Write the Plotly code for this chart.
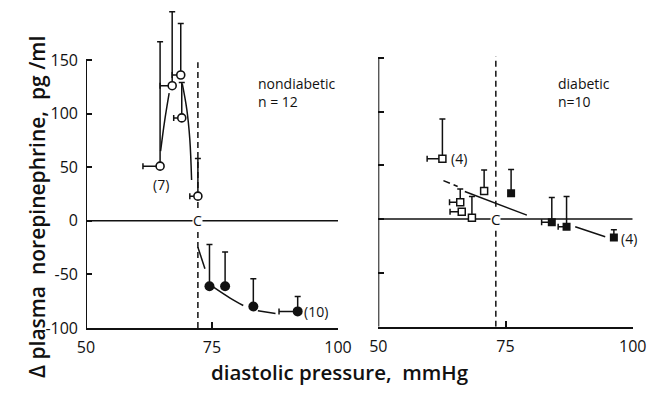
import plotly.graph_objects as go

# ---------------- data ----------------
# Nondiabetic: open circles (below threshold), filled circles (above threshold)
nd_open_x = [64.7, 67.1, 68.8, 69.0, 72.2]
nd_open_y = [51, 126, 136, 96, 23]
nd_open_err_up = [116, 69, 48, 33, 35]
nd_open_err_left = [3.4, 2.4, 1.7, 1.6, 1.6]

nd_fill_x = [74.5, 77.6, 83.2, 92.0]
nd_fill_y = [-61, -61, -80, -84.5]
nd_fill_err_up = [39, 32, 26, 14]
nd_fill_err_left = [0, 0, 0, 3.7]

# Diabetic: open squares (below threshold), filled squares (above threshold)
d_open_x = [62.6, 70.8, 66.1, 66.4, 68.4]
d_open_y = [56, 26, 15.6, 6.9, 1.3]
d_open_err_up = [37, 19.6, 12.4, 0, 19.6]
d_open_err_left = [3.0, 0, 2.1, 2.3, 0]

d_fill_x = [76.1, 84.1, 87.0, 96.3]
d_fill_y = [24, -3, -7, -17]
d_fill_err_up = [22, 23, 28, 7]
d_fill_err_left = [0, 2.0, 1.65, 0]

# Thresholds ("C")
nd_threshold = 72.2
d_threshold = 73.1

# Fitted curves
nd_fit_a_x = [64.8, 65.6, 66.5]
nd_fit_a_y = [65, 93, 119]
nd_fit_b_x = [69.1, 70.0, 70.6, 70.95]
nd_fit_b_y = [128, 104, 76, 38]
nd_fit_c_x = [72.2, 73.6]
nd_fit_c_y = [-24.6, -44.8]
nd_fit_d_x = [75.3, 78.6, 81.2]
nd_fit_d_y = [-61.9, -72.1, -79.0]
nd_fit_e_x = [84.1, 87.6]
nd_fit_e_y = [-84.0, -86.5]

d_fit_a_x = [62.8, 65.6]
d_fit_a_y = [35.8, 30.3]
d_fit_b_x = [67.0, 79.2]
d_fit_b_y = [25.6, 3.7]
d_fit_c_x = [88.7, 94.6]
d_fit_c_y = [-7.1, -16.4]

x_ticks = [50, 75, 100]
y_ticks = [150, 100, 50, 0, -50, -100]
y_min, y_axis_top = -100, 150

W, H = 650, 401
FONT = "Open Sans"
BLACK = "#111111"

fig = go.Figure()


def err(up, left, wd=3):
    return (dict(type="data", symmetric=False, array=up, arrayminus=[0] * len(up),
                 color=BLACK, thickness=1.5, width=wd),
            dict(type="data", symmetric=False, array=[0] * len(left), arrayminus=left,
                 color=BLACK, thickness=1.5, width=wd))


def line(xs, ys, xa, ya, dash="solid", shape="spline"):
    fig.add_trace(go.Scatter(x=xs, y=ys, mode="lines", xaxis=xa, yaxis=ya,
                             line=dict(color=BLACK, width=1.5, dash=dash, shape=shape),
                             hoverinfo="skip", showlegend=False))


# zero lines and thresholds
line([50, 100], [0, 0], "x", "y", shape="linear")
line([50, 100], [0, 0], "x2", "y2", shape="linear")
line([nd_threshold, nd_threshold], [y_min, 148], "x", "y", dash="6px,4px", shape="linear")
line([d_threshold, d_threshold], [y_min, 151], "x2", "y2", dash="6px,4px", shape="linear")

# fitted curves
line(nd_fit_a_x, nd_fit_a_y, "x", "y")
line(nd_fit_b_x, nd_fit_b_y, "x", "y")
line(nd_fit_c_x, nd_fit_c_y, "x", "y")
line(nd_fit_d_x, nd_fit_d_y, "x", "y")
line(nd_fit_e_x, nd_fit_e_y, "x", "y")
line(d_fit_a_x, d_fit_a_y, "x2", "y2", dash="7px,4px", shape="linear")
line(d_fit_b_x, d_fit_b_y, "x2", "y2", shape="linear")
line(d_fit_c_x, d_fit_c_y, "x2", "y2", shape="linear")

# points
ey, ex = err(nd_open_err_up, nd_open_err_left)
fig.add_trace(go.Scatter(x=nd_open_x, y=nd_open_y, mode="markers", xaxis="x", yaxis="y",
                         marker=dict(symbol="circle", size=8, color="white",
                                     line=dict(color=BLACK, width=1.6)),
                         error_y=ey, error_x=ex, showlegend=False))
ey, ex = err(nd_fill_err_up, nd_fill_err_left)
fig.add_trace(go.Scatter(x=nd_fill_x, y=nd_fill_y, mode="markers", xaxis="x", yaxis="y",
                         marker=dict(symbol="circle", size=10, color=BLACK),
                         error_y=ey, error_x=ex, showlegend=False))
ey, ex = err(d_open_err_up, d_open_err_left)
fig.add_trace(go.Scatter(x=d_open_x, y=d_open_y, mode="markers", xaxis="x2", yaxis="y2",
                         marker=dict(symbol="square", size=7, color="white",
                                     line=dict(color=BLACK, width=1.5)),
                         error_y=ey, error_x=ex, showlegend=False))
ey, ex = err(d_fill_err_up, d_fill_err_left)
fig.add_trace(go.Scatter(x=d_fill_x, y=d_fill_y, mode="markers", xaxis="x2", yaxis="y2",
                         marker=dict(symbol="square", size=8, color=BLACK),
                         error_y=ey, error_x=ex, showlegend=False))

# y-axis lines (stop at 150 while error bars extend higher)
for xr, yr in (("x", "y"), ("x2", "y2")):
    fig.add_shape(type="line", xref=xr, yref=yr, x0=50, x1=50, y0=y_min, y1=y_axis_top,
                  line=dict(color=BLACK, width=2))

axis_common = dict(range=[50, 100], tickvals=x_ticks, ticktext=[str(v) for v in x_ticks],
                   ticks="inside", ticklen=6, tickwidth=1.5, tickcolor=BLACK,
                   showline=True, linecolor=BLACK, linewidth=2, showgrid=False,
                   zeroline=False, automargin=False, ticklabelstandoff=4,
                   tickfont=dict(family=FONT, size=16, color=BLACK, weight=500))
yaxis_common = dict(range=[-100, 200], tickvals=y_ticks, ticks="inside", ticklen=6,
                    tickwidth=1.5, tickcolor=BLACK, showline=False, showgrid=False,
                    zeroline=False, automargin=False, ticklabelstandoff=7,
                    tickfont=dict(family=FONT, size=16, color=BLACK, weight=500))

fig.update_layout(
    width=W, height=H, margin=dict(l=0, r=0, t=0, b=0),
    paper_bgcolor="white", plot_bgcolor="white", showlegend=False,
    xaxis=dict(domain=[86 / W, 338 / W], anchor="y", **axis_common),
    yaxis=dict(domain=[(H - 328) / H, (H - 6.4) / H], anchor="x",
               ticktext=[str(v) for v in y_ticks], **yaxis_common),
    xaxis2=dict(domain=[378.3 / W, 632.7 / W], anchor="y2", **axis_common),
    yaxis2=dict(domain=[(H - 326.7) / H, (H - 3.9) / H], anchor="x2",
                showticklabels=False, **yaxis_common),
)

txt = dict(family=FONT, size=14, color=BLACK, weight=500)
lab = dict(family=FONT, size=14, color=BLACK)
ann = [
    dict(x=nd_threshold, y=0, xref="x", yref="y", text="C", bgcolor="white",
         borderpad=0, font=dict(family=FONT, size=14, color=BLACK)),
    dict(x=d_threshold, y=0, xref="x2", yref="y2", text="C", bgcolor="white",
         borderpad=0, font=dict(family=FONT, size=15, color=BLACK)),
    dict(x=64.9, y=34, xref="x", yref="y", text="(7)", font=txt),
    dict(x=92.8, y=-84.5, xref="x", yref="y", text="(10)", xanchor="left", font=txt),
    dict(x=63.8, y=56, xref="x2", yref="y2", text="(4)", xanchor="left", font=txt),
    dict(x=97.3, y=-18, xref="x2", yref="y2", text="(4)", xanchor="left", font=txt),
    dict(x=257 / W, y=(H - 73) / H, xref="paper", yref="paper",
         text="nondiabetic<br>n = 12", xanchor="left", yanchor="top", align="left",
         borderpad=0, font=lab),
    dict(x=557 / W, y=(H - 73) / H, xref="paper", yref="paper",
         text="diabetic<br>n=10", xanchor="left", yanchor="top", align="left",
         borderpad=0, font=lab),
    dict(x=340 / W, y=(H - 388) / H, xref="paper", yref="paper",
         text="diastolic pressure,  mmHg",
         font=dict(family=FONT, size=20.5, color=BLACK, weight=600)),
    dict(x=21 / W, y=(H - 207) / H, xref="paper", yref="paper", textangle=-90,
         text="Δ plasma  norepinephrine,  pg /ml",
         font=dict(family=FONT, size=21, color=BLACK, weight=600)),
]
for a in ann:
    a.setdefault("showarrow", False)
fig.update_layout(annotations=ann)

fig.write_html("out.html", config={"displayModeBar": False},
               post_script="document.body.style.margin='0';")
